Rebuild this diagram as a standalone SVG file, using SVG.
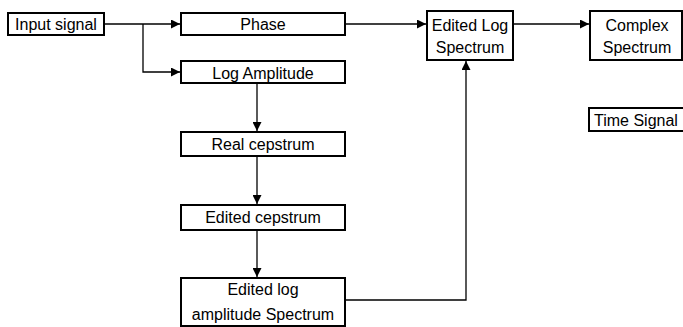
<svg xmlns="http://www.w3.org/2000/svg" width="683" height="327" viewBox="0 0 683 327">
<style>
.box{fill:#fff;stroke:#000;stroke-width:2}
.t{font-family:"Liberation Sans",Arial,sans-serif;font-size:16px;fill:#000;text-anchor:middle}
.c{fill:none;stroke:#000;stroke-width:1.3}
</style>
<defs>
<marker id="ah" viewBox="0 0 10 10" refX="10" refY="5" markerWidth="9" markerHeight="9" markerUnits="userSpaceOnUse" orient="auto">
<path d="M0,0 L10,5 L0,10 Z" fill="#000"/>
</marker>
</defs>
<g id="connectors">
<path class="c" d="M104,24 H180" marker-end="url(#ah)"/>
<path class="c" d="M143,24 V72 H180" marker-end="url(#ah)"/>
<path class="c" d="M257,84 V131" marker-end="url(#ah)"/>
<path class="c" d="M257,157 V204" marker-end="url(#ah)"/>
<path class="c" d="M257,231 V277" marker-end="url(#ah)"/>
<path class="c" d="M346,24 H426" marker-end="url(#ah)"/>
<path class="c" d="M514,24 H589" marker-end="url(#ah)"/>
<path class="c" d="M346,300 H466 V61" marker-end="url(#ah)"/>
</g>
<g id="input"><rect class="box" x="8" y="13" width="96" height="22"/><text class="t" x="56" y="30">Input signal</text></g>
<g id="phase"><rect class="box" x="181" y="13" width="164" height="22"/><text class="t" x="263" y="30">Phase</text></g>
<g id="logamp"><rect class="box" x="181" y="61" width="164" height="22"/><text class="t" x="263" y="79">Log Amplitude</text></g>
<g id="realcep"><rect class="box" x="181" y="132" width="164" height="24"/><text class="t" x="263" y="150">Real cepstrum</text></g>
<g id="editcep"><rect class="box" x="181" y="205" width="164" height="25"/><text class="t" x="263" y="223">Edited cepstrum</text></g>
<g id="editlogamp"><rect class="box" x="181" y="278" width="164" height="48"/><text class="t" x="263" y="295">Edited log</text><text class="t" x="263" y="320">amplitude Spectrum</text></g>
<g id="editlogspec"><rect class="box" x="427" y="11" width="86" height="49"/><text class="t" x="470" y="31">Edited Log</text><text class="t" x="470" y="53">Spectrum</text></g>
<g id="complex"><rect class="box" x="590" y="11" width="92" height="49"/><text class="t" x="637" y="31">Complex</text><text class="t" x="637" y="53">Spectrum</text></g>
<g id="time"><rect class="box" x="589" y="108" width="100" height="23"/><text class="t" x="594" y="126" style="text-anchor:start">Time Signal</text></g>
</svg>
